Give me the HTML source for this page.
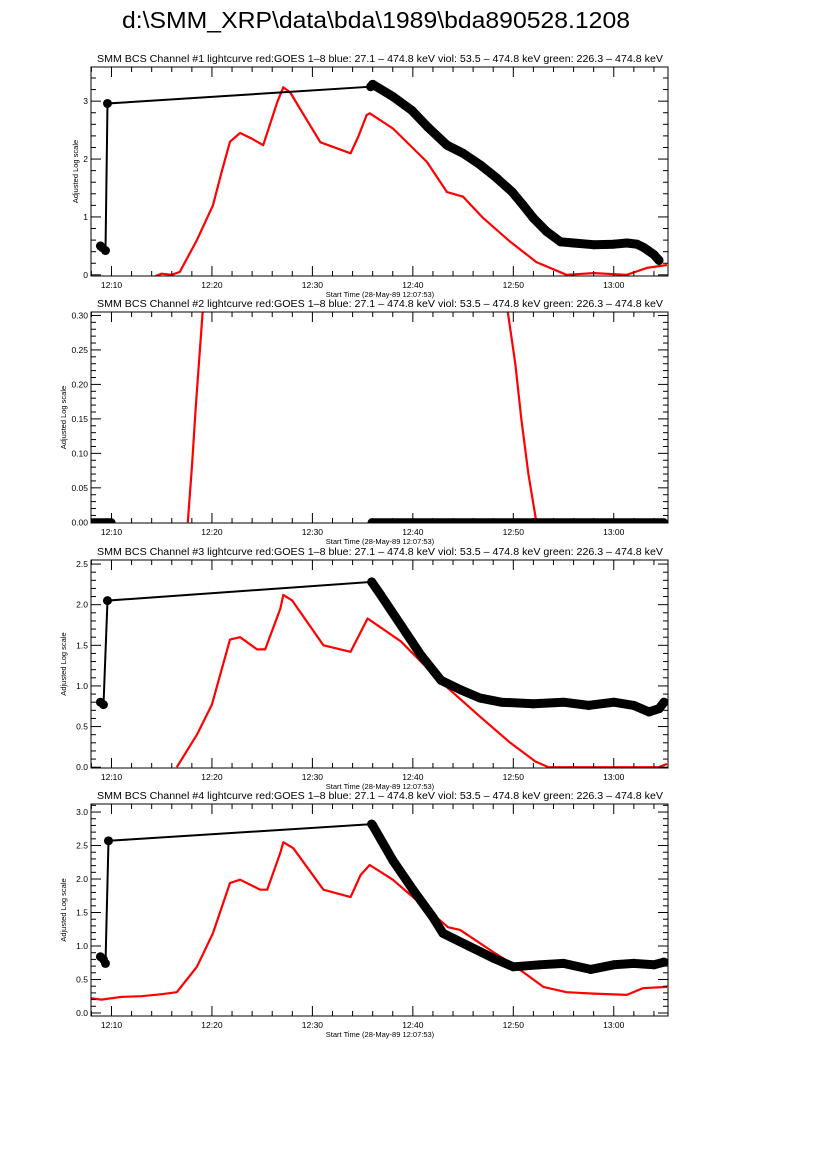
<!DOCTYPE html>
<html><head><meta charset="utf-8">
<style>
body{margin:0;background:#fff;width:826px;height:1169px;overflow:hidden;font-family:"Liberation Sans",sans-serif;}
svg text{font-family:"Liberation Sans",sans-serif;}
</style></head>
<body>
<svg id="fig" width="826" height="1169" viewBox="0 0 826 1169" xmlns="http://www.w3.org/2000/svg">
<rect width="826" height="1169" fill="#fff"/>
<text x="376" y="28" font-size="23.5" text-anchor="middle" textLength="508" lengthAdjust="spacingAndGlyphs">d:\SMM_XRP\data\bda\1989\bda890528.1208</text>
</svg>
<script>
// time in minutes after 12:00
const xTickLabels = ["12:10","12:20","12:30","12:40","12:50","13:00"];
const xTickMinutes = [10,20,30,40,50,60];

// Panel 1
const p1BlackT = [8.9,9.1,9.4,9.6,35.8,36.0,38,39.9,41.5,43.4,45,46.7,48.3,49.9,51,52,53.3,54.7,56,58,60,61.3,62.3,63,64,64.5];
const p1BlackV = [0.5,0.47,0.42,2.96,3.25,3.29,3.08,2.84,2.55,2.24,2.1,1.9,1.68,1.43,1.2,0.98,0.75,0.57,0.55,0.52,0.53,0.55,0.53,0.47,0.35,0.25];
const p1RedT = [14.0,15,16,16.8,18.5,20.1,21.0,21.8,22.8,24,25.1,26.5,27.1,27.8,29,30.8,33.8,34.6,35.4,35.7,38,41.4,43.4,45,47,49.7,52.3,55.3,58,61.3,63.3,65.3];
const p1RedV = [-0.05,0.02,0.0,0.05,0.6,1.2,1.8,2.3,2.45,2.35,2.24,2.98,3.24,3.15,2.8,2.29,2.1,2.4,2.76,2.79,2.53,1.95,1.43,1.35,0.98,0.57,0.22,0.0,0.03,0.0,0.12,0.17];

// Panel 2
const p2BlackT = [8.2,10.0,35.9,65.0];
const p2BlackV = [0,0,0,0];
const p2RedT = [17.6,18.0,18.4,18.8,19.1];
const p2RedV = [0.0,0.08,0.17,0.25,0.31];
const p2RedT2 = [49.4,50.2,50.8,51.5,52.3];
const p2RedV2 = [0.31,0.23,0.15,0.07,0.0];

// Panel 3
const p3BlackT = [8.9,9.2,9.6,35.9,36.8,38.8,40.8,42.8,44.8,46.7,48.8,52,55,57.5,60,62,63.5,64.5,65.0];
const p3BlackV = [0.8,0.77,2.05,2.28,2.12,1.75,1.38,1.07,0.95,0.85,0.8,0.78,0.8,0.76,0.8,0.76,0.68,0.72,0.8];
const p3RedT = [16.5,18.5,20.0,21.8,22.8,24.5,25.3,26.8,27.1,28,31.1,33.8,35.5,38.8,42.8,46.7,49.7,52.2,53.5,63,64.5,65.3];
const p3RedV = [0.0,0.4,0.77,1.57,1.6,1.45,1.45,1.95,2.12,2.05,1.5,1.42,1.83,1.55,1.05,0.62,0.3,0.07,0.0,0.0,0.0,0.04];

// Panel 4
const p4BlackT = [8.9,9.2,9.4,9.7,35.9,36.0,38,40,42,43,45.7,48,50,52.6,55,57.7,60,62,64,65];
const p4BlackV = [0.84,0.8,0.74,2.57,2.82,2.8,2.28,1.84,1.43,1.19,0.99,0.82,0.69,0.72,0.74,0.65,0.72,0.74,0.72,0.76];
const p4RedT = [7.9,9,11,13,15,16.5,18.5,20.1,21.8,22.8,24.8,25.5,26.8,27.1,28.1,31.1,33.8,34.8,35.7,38,40.7,43.5,44.7,48,49.7,53,55.3,58,61.3,62.9,65.3];
const p4RedV = [0.22,0.2,0.24,0.25,0.28,0.31,0.69,1.19,1.94,1.99,1.84,1.84,2.39,2.55,2.46,1.84,1.73,2.06,2.21,1.99,1.64,1.28,1.24,0.91,0.75,0.39,0.31,0.29,0.27,0.37,0.39];

const panels = [
  {n:1, top:67, bot:276, ymin:-0.02, ymax:3.59, ticks:[0,1,2,3], labels:["0","1","2","3"], minor:0.2,
   bt:p1BlackT, bv:p1BlackV, reds:[[p1RedT,p1RedV]], early:4},
  {n:2, top:312, bot:523, ymin:-0.001, ymax:0.305, ticks:[0,0.05,0.1,0.15,0.2,0.25,0.3], labels:["0.00","0.05","0.10","0.15","0.20","0.25","0.30"], minor:0.01,
   bt:p2BlackT, bv:p2BlackV, reds:[[p2RedT,p2RedV],[p2RedT2,p2RedV2]], p2:true},
  {n:3, top:560, bot:768, ymin:-0.01, ymax:2.55, ticks:[0,0.5,1,1.5,2,2.5], labels:["0.0","0.5","1.0","1.5","2.0","2.5"], minor:0.1,
   bt:p3BlackT, bv:p3BlackV, reds:[[p3RedT,p3RedV]], early:3},
  {n:4, top:804, bot:1016, ymin:-0.045, ymax:3.12, ticks:[0,0.5,1,1.5,2,2.5,3], labels:["0.0","0.5","1.0","1.5","2.0","2.5","3.0"], minor:0.1,
   bt:p4BlackT, bv:p4BlackV, reds:[[p4RedT,p4RedV]], early:4}
];

const svg = document.getElementById('fig');
const NS = "http://www.w3.org/2000/svg";
const L = 91, R = 668;
const tMin = 7.96, tMax = 65.4;
function xs(t){ return L + (t - tMin) / (tMax - tMin) * (R - L); }
function mk(tag, attrs, parent){ const e = document.createElementNS(NS, tag); for (const k in attrs) e.setAttribute(k, attrs[k]); (parent||svg).appendChild(e); return e; }

panels.forEach(p => {
  const g = mk('g', {});
  
  
  const ys = v => p.bot - (v - p.ymin) / (p.ymax - p.ymin) * (p.bot - p.top);
  const clipId = 'clip' + p.n;
  const cp = mk('clipPath', {id: clipId}, g);
  mk('rect', {x: L, y: p.top, width: R - L, height: p.bot - p.top}, cp);

  const ttl = mk('text', {x: 380, y: p.top - 5, 'font-size': 10, 'text-anchor': 'middle', textLength: 566, lengthAdjust: 'spacingAndGlyphs'}, g);
  
  
  ttl.textContent = 'SMM BCS Channel #' + p.n + ' lightcurve  red:GOES 1\u20138  blue: 27.1 \u2013 474.8 keV  viol: 53.5 \u2013 474.8 keV  green: 226.3 \u2013 474.8 keV';

  p.reds.forEach(r => {
    const pts = r[0].map((t, i) => xs(t).toFixed(1) + ',' + ys(r[1][i]).toFixed(1)).join(' ');
    const pl = mk('polyline', {points: pts, fill: 'none', stroke: '#ff0000', 'stroke-width': 2.2, 'stroke-linejoin': 'round', 'clip-path': 'url(#' + clipId + ')'}, g);
    
    
  });

  if (p.p2) {
    [[0,1],[2,3]].forEach(seg => {
      const ln = mk('line', {x1: xs(p.bt[seg[0]]), y1: ys(p.bv[seg[0]]), x2: xs(p.bt[seg[1]]), y2: ys(p.bv[seg[1]]), stroke: '#000', 'stroke-width': 8, 'stroke-linecap': 'round', 'clip-path': 'url(#' + clipId + ')'}, g);
      
      
    });
  } else {
    const e = p.early;
    const all = p.bt.map((t, i) => xs(t).toFixed(1) + ',' + ys(p.bv[i]).toFixed(1)).join(' ');
    const thin = mk('polyline', {points: all, fill: 'none', stroke: '#000', 'stroke-width': 2}, g);
    
    
    const dense = p.bt.slice(e).map((t, i) => xs(t).toFixed(1) + ',' + ys(p.bv[i + e]).toFixed(1)).join(' ');
    const thick = mk('polyline', {points: dense, fill: 'none', stroke: '#000', 'stroke-width': 9, 'stroke-linejoin': 'round', 'stroke-linecap': 'round'}, g);
    
    
    p.bt.forEach((t, i) => {
      const c = mk('circle', {cx: xs(t), cy: ys(p.bv[i]), r: 4.5, fill: '#000'}, g);
      
      
    });
  }

  const fr = mk('rect', {x: L, y: p.top, width: R - L, height: p.bot - p.top, fill: 'none', stroke: '#000', 'stroke-width': 1}, g);
  
  

  for (let m = 8; m <= 65; m += 2) {
    const x = xs(m);
    const len = (m % 10 === 0) ? 10 : 5;
    mk('line', {x1: x, y1: p.bot, x2: x, y2: p.bot - len, stroke: '#000', 'stroke-width': 1}, g);
    mk('line', {x1: x, y1: p.top, x2: x, y2: p.top + len, stroke: '#000', 'stroke-width': 1}, g);
  }
  xTickMinutes.forEach((m, i) => {
    const t = mk('text', {x: xs(m), y: p.bot + 12, 'font-size': 8.5, 'text-anchor': 'middle'}, g);
    
    
    t.textContent = xTickLabels[i];
  });
  const xt = mk('text', {x: 380, y: p.bot + 21, 'font-size': 7.5, 'text-anchor': 'middle'}, g);
  
  
  xt.textContent = 'Start Time (28-May-89 12:07:53)';

  const major = p.ticks[1] - p.ticks[0];
  for (let v = 0; v <= p.ymax + 1e-9; v += p.minor) {
    const y = ys(v);
    if (y < p.top - 0.5) break;
    const isMaj = Math.abs(v / major - Math.round(v / major)) < 1e-6;
    const len = isMaj ? 10 : 5;
    mk('line', {x1: L, y1: y, x2: L + len, y2: y, stroke: '#000', 'stroke-width': 1}, g);
    mk('line', {x1: R, y1: y, x2: R - len, y2: y, stroke: '#000', 'stroke-width': 1}, g);
  }
  p.ticks.forEach((v, i) => {
    const t = mk('text', {x: L - 3, y: ys(v) + 3, 'font-size': 8.5, 'text-anchor': 'end'}, g);
    
    
    t.textContent = p.labels[i];
  });
  const cy = (p.top + p.bot) / 2;
  const yt = mk('text', {x: 0, y: 0, 'font-size': 7.5, 'text-anchor': 'middle', transform: 'translate(' + (p.n === 1 ? 78 : 66) + ',' + cy + ') rotate(-90)'}, g);
  
  
  yt.textContent = 'Adjusted Log scale';
});
</script>
</body></html>
